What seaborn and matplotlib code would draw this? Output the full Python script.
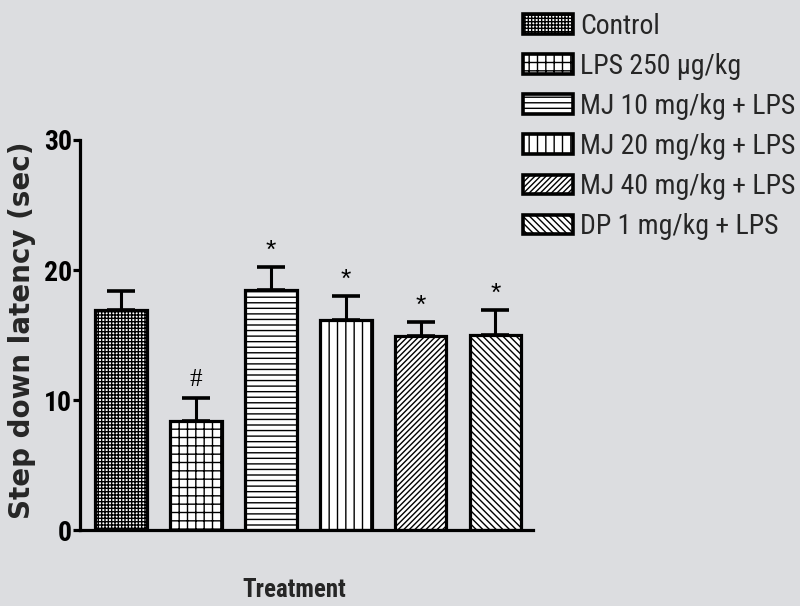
"""Step down latency bar chart with hatched groups."""

import matplotlib
matplotlib.use("Agg")
import matplotlib.pyplot as plt
import matplotlib.patches as mpatches
import numpy as np
import pandas as pd
import seaborn as sns

groups = [
    "Control",
    "LPS 250 \u00b5g/kg",
    "MJ 10 mg/kg + LPS",
    "MJ 20 mg/kg + LPS",
    "MJ 40 mg/kg + LPS",
    "DP 1 mg/kg + LPS",
]
means = [16.9, 8.4, 18.5, 16.2, 14.9, 15.0]
sems = [1.5, 1.8, 1.7, 1.8, 1.1, 1.9]
marks = ["", "#", "*", "*", "*", "*"]
hatches = ["+++++", "++", "---", "||", "//////", "\\\\\\\\\\"]

BG = "#dcdde0"

sns.set_theme(style="white")
plt.rcParams["font.family"] = ["Roboto Condensed", "DejaVu Sans"]
plt.rcParams["hatch.linewidth"] = 1.0
plt.rcParams["hatch.color"] = "black"

df = pd.DataFrame({"group": groups, "latency": means})

fig = plt.figure(figsize=(8, 6.06), dpi=100, facecolor=BG)
ax = fig.add_axes([0.1, 0.125, 0.566, 0.644])
ax.set_facecolor(BG)

sns.barplot(data=df, x="group", y="latency", order=groups, color="white",
            edgecolor="black", linewidth=2.3, width=0.69, errorbar=None,
            saturation=1, ax=ax)

for patch, h in zip(ax.patches, hatches):
    patch.set_hatch(h)
    patch.set_facecolor("white")

x = np.arange(len(groups))
ax.errorbar(x, means, yerr=[np.zeros(len(sems)), sems], fmt="none",
            ecolor="black", elinewidth=2.2, capsize=10, capthick=2.6, zorder=1)

for xi, m, s, t in zip(x, means, sems, marks):
    if t == "*":
        ax.text(xi, m + s + 0.35, t, ha="center", va="bottom", fontsize=19,
                family=["Liberation Sans"], color="black")
    else:
        ax.text(xi, m + s + 0.5, t, ha="center", va="bottom", fontsize=18,
                family=["Liberation Serif"], color="black")

ax.set_xlim(-0.55, 5.5)
ax.set_ylim(0, 30)
ax.set_yticks([0, 10, 20, 30])
ax.set_xticks([])
ax.set_xlabel("")
ax.set_ylabel("")
fig.text(0.028, 0.455, "Step down latency (sec)", rotation=90, ha="center",
         va="center", fontsize=20, fontweight="bold", family=["DejaVu Sans"])
for sp in ["top", "right"]:
    ax.spines[sp].set_visible(False)
for sp in ["left", "bottom"]:
    ax.spines[sp].set_linewidth(2.3)
    ax.spines[sp].set_color("black")
ax.tick_params(axis="y", direction="out", length=5, width=2.3, labelsize=20,
               pad=1, left=True, colors="black")
for lab in ax.get_yticklabels():
    lab.set_fontweight("bold")

fig.text(0.3675, 0.027, "Treatment", ha="center", va="center", fontsize=18,
         fontweight="bold")

handles = [mpatches.Patch(facecolor="white", edgecolor="black", linewidth=2.6,
                          hatch=h, label=g) for g, h in zip(groups, hatches)]
fig.legend(handles=handles, loc="upper left", bbox_to_anchor=(0.654, 0.979),
           frameon=False, fontsize=20, handlelength=1.8, handleheight=0.7,
           handletextpad=0.25, labelspacing=0.47, borderpad=0,
           borderaxespad=0)

fig.savefig("out.png", dpi=100, facecolor=BG)
